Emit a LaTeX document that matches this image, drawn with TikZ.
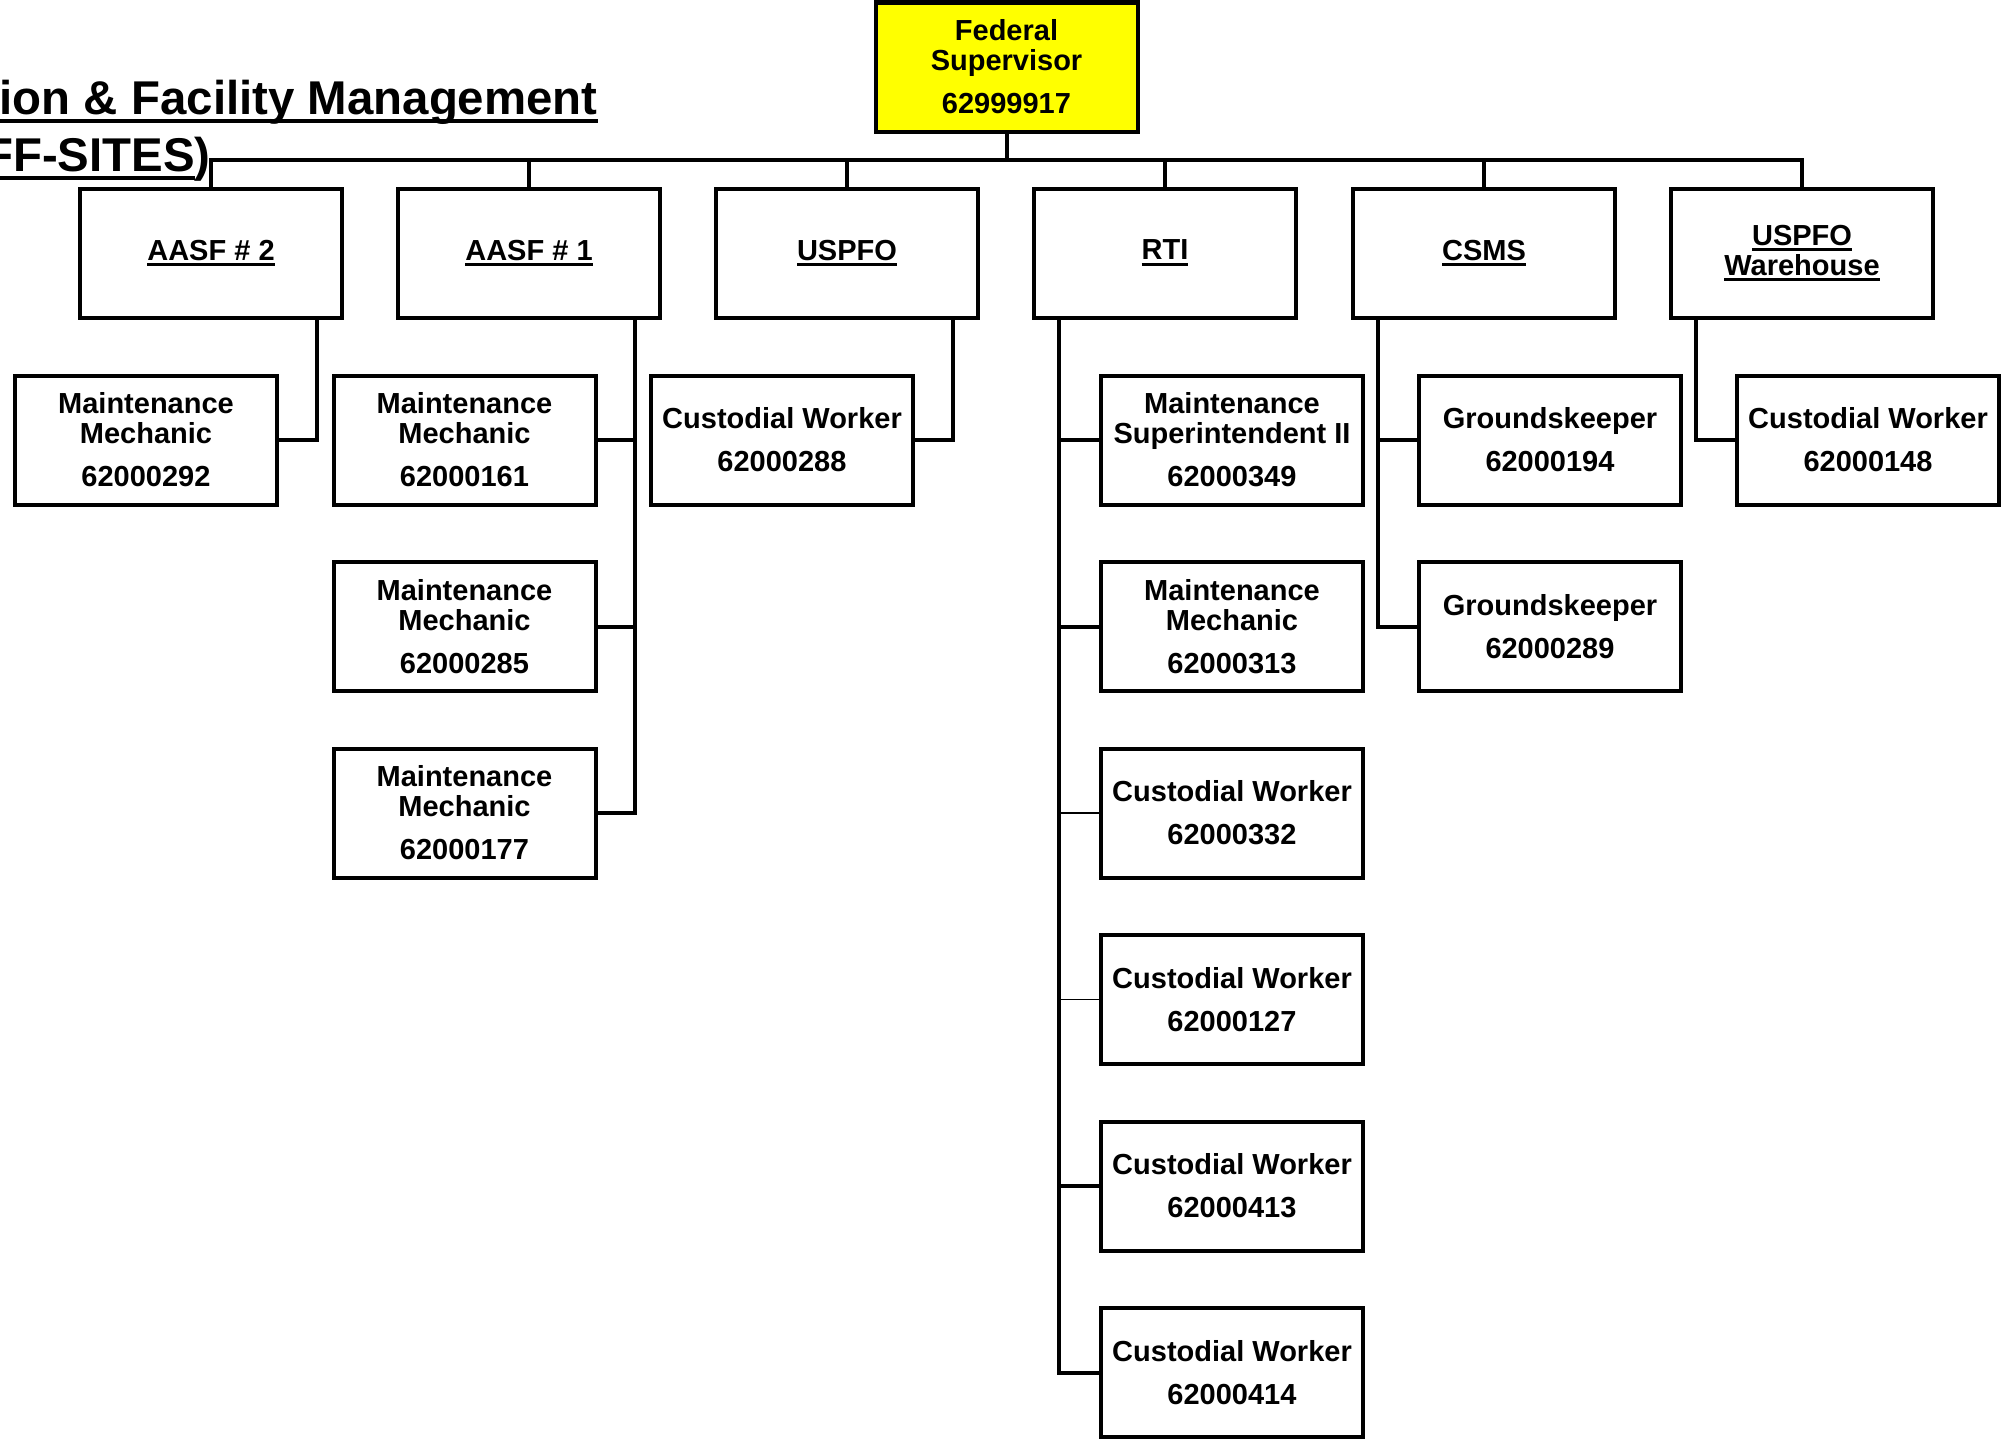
\documentclass[tikz,border=0pt]{standalone}
\usepackage{fontspec}
\setmainfont{Liberation Sans}
\definecolor{fedyellow}{RGB}{255,255,0}
\newsavebox{\myulbox}
\newcommand{\myul}[3]{\sbox{\myulbox}{#3}\rlap{\rule[-#1]{\wd\myulbox}{#2}}\usebox{\myulbox}}
\newcommand{\boxul}[1]{\myul{3pt}{1.35pt}{#1}}
\newcommand{\titleul}[1]{\myul{4.7pt}{2.35pt}{#1}}
\begin{document}
\begin{tikzpicture}[x=0.5pt,y=-0.5pt,
  orgbox/.style={draw, line width=2pt, minimum width=131pt, minimum height=64.5pt,
    inner sep=0pt, align=center, font=\fontsize{14.5}{15}\selectfont\bfseries},
  titletext/.style={inner sep=0pt, anchor=base east, font=\fontsize{23.7}{26}\selectfont\bfseries},
  conn/.style={line width=2pt, line join=miter},
  thinconn/.style={line width=0.7pt}]
\useasboundingbox (0,0) rectangle (2003,1440);

% title (cut at left edge)
\node[titletext] (title1) at (598,114) {\titleul{ion \& Facility Management}};
\node[titletext] (title2) at (211,171) {\titleul{FF-SITES})};

% top
\node[orgbox, fill=fedyellow] (fed) at (1006.5,67) {Federal\\Supervisor\\[6.5pt]62999917};

% second level
\node[orgbox] (aasf2) at (211,253)  {\boxul{AASF \# 2}};
\node[orgbox] (aasf1) at (529,253)  {\boxul{AASF \# 1}};
\node[orgbox] (uspfo) at (847,253)  {\boxul{USPFO}};
\node[orgbox] (rti)   at (1165,253) {\boxul{RTI}};
\node[orgbox] (csms)  at (1484,253) {\boxul{CSMS}};
\node[orgbox] (whse)  at (1802,253) {\boxul{USPFO}\\\boxul{Warehouse}};

% AASF #2 children
\node[orgbox] (mm292) at (146,440) {Maintenance\\Mechanic\\[6.5pt]62000292};
% AASF #1 children
\node[orgbox] (mm161) at (464.5,440)   {Maintenance\\Mechanic\\[6.5pt]62000161};
\node[orgbox] (mm285) at (464.5,626.5) {Maintenance\\Mechanic\\[6.5pt]62000285};
\node[orgbox] (mm177) at (464.5,813)   {Maintenance\\Mechanic\\[6.5pt]62000177};
% USPFO child
\node[orgbox] (cw288) at (782,440) {Custodial Worker\\[6.5pt]62000288};
% RTI children
\node[orgbox] (ms349) at (1232,440)    {Maintenance\\Superintendent II\\[6.5pt]62000349};
\node[orgbox] (mm313) at (1232,626.5)  {Maintenance\\Mechanic\\[6.5pt]62000313};
\node[orgbox] (cw332) at (1232,813)    {Custodial Worker\\[6.5pt]62000332};
\node[orgbox] (cw127) at (1232,999.5)  {Custodial Worker\\[6.5pt]62000127};
\node[orgbox] (cw413) at (1232,1186)   {Custodial Worker\\[6.5pt]62000413};
\node[orgbox] (cw414) at (1232,1372.5) {Custodial Worker\\[6.5pt]62000414};
% CSMS children
\node[orgbox] (gk194) at (1550,440)   {Groundskeeper\\[6.5pt]62000194};
\node[orgbox] (gk289) at (1550,626.5) {Groundskeeper\\[6.5pt]62000289};
% Warehouse child
\node[orgbox] (cw148) at (1868,440) {Custodial Worker\\[6.5pt]62000148};

% bus
\coordinate (bus) at (0,160);
\draw[conn] (aasf2.north) -- (aasf2.north |- bus) -- (whse.north |- bus) -- (whse.north);
\draw[conn] (fed.south) -- (fed.south |- bus);
\foreach \n in {aasf1,uspfo,rti,csms}
  \draw[conn] (\n.north) -- (\n.north |- bus);

% trunks
\coordinate (t2) at ([xshift=53pt]aasf2.south);
\coordinate (t1) at ([xshift=53pt]aasf1.south);
\coordinate (tu) at ([xshift=53pt]uspfo.south);
\coordinate (tr) at ([xshift=-53pt]rti.south);
\coordinate (tc) at ([xshift=-53pt]csms.south);
\coordinate (tw) at ([xshift=-53pt]whse.south);

\draw[conn] (t2) |- (mm292.east);
\draw[conn] (t1) |- (mm177.east);
\draw[conn] (t1 |- mm161.east) -- (mm161.east);
\draw[conn] (t1 |- mm285.east) -- (mm285.east);
\draw[conn] (tu) |- (cw288.east);
\draw[conn] (tr) |- (cw414.west);
\draw[conn] (tr |- ms349.west) -- (ms349.west);
\draw[conn] (tr |- mm313.west) -- (mm313.west);
\draw[thinconn] (tr |- cw332.west) -- (cw332.west);
\draw[thinconn] (tr |- cw127.west) -- (cw127.west);
\draw[conn] (tr |- cw413.west) -- (cw413.west);
\draw[conn] (tc) |- (gk289.west);
\draw[conn] (tc |- gk194.west) -- (gk194.west);
\draw[conn] (tw) |- (cw148.west);
\end{tikzpicture}
\end{document}
